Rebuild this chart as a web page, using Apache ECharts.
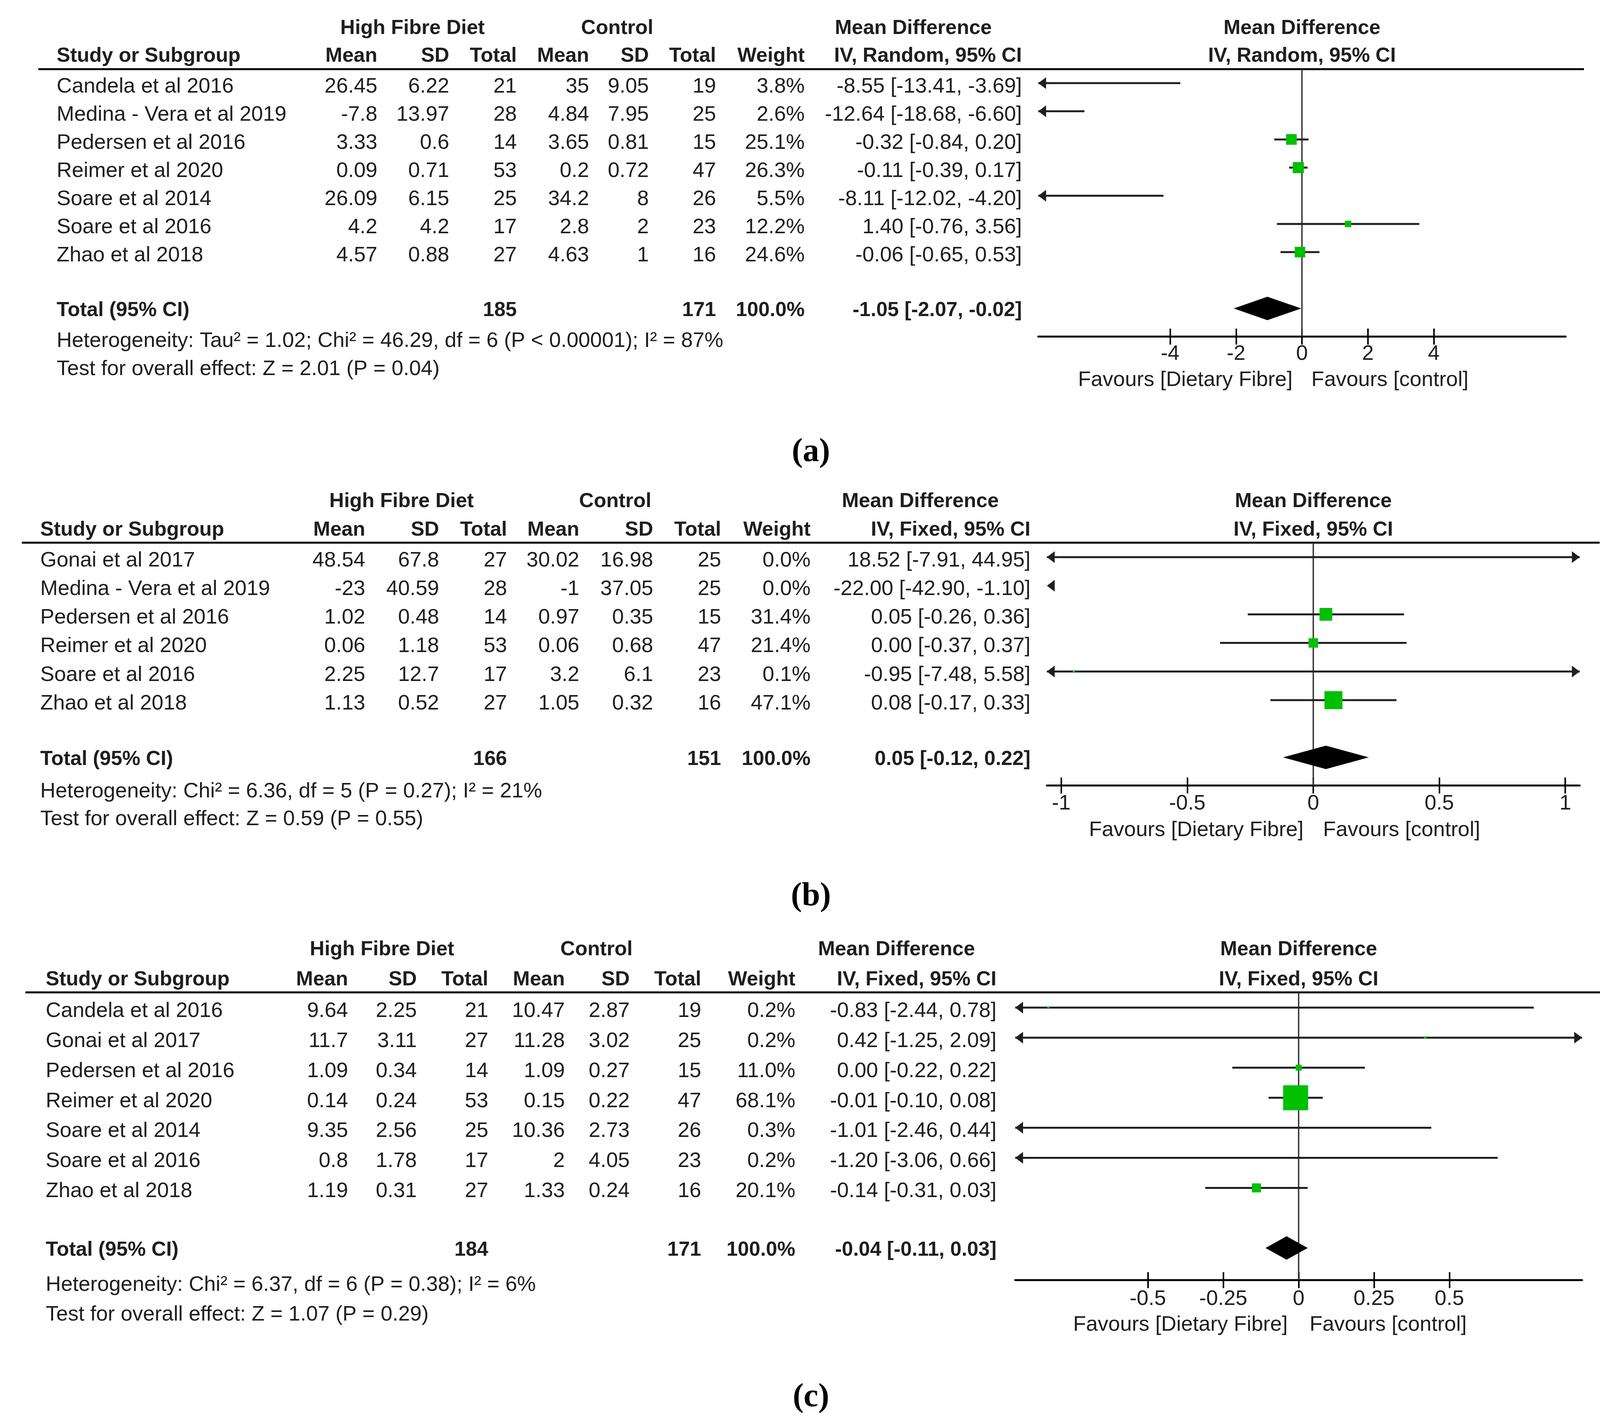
<!DOCTYPE html>
<html><head><meta charset="utf-8">
<script src="https://cdn.jsdelivr.net/npm/echarts@6/dist/echarts.min.js"></script>
<style>html,body{margin:0;padding:0;background:#fff}#c{width:4124px;height:3655px}</style>
</head><body><div id="c"></div>
<script>
// ---------------- DATA ----------------
// (a)
const studiesA = ['Candela et al 2016','Medina - Vera et al 2019','Pedersen et al 2016','Reimer et al 2020','Soare et al 2014','Soare et al 2016','Zhao et al 2018'];
const hfMeanA = [26.45,-7.8,3.33,0.09,26.09,4.2,4.57];
const hfSdA   = [6.22,13.97,0.6,0.71,6.15,4.2,0.88];
const hfNA    = [21,28,14,53,25,17,27];
const ctMeanA = [35,4.84,3.65,0.2,34.2,2.8,4.63];
const ctSdA   = [9.05,7.95,0.81,0.72,8,2,1];
const ctNA    = [19,25,15,47,26,23,16];
const weightA = [3.8,2.6,25.1,26.3,5.5,12.2,24.6];
const mdA     = [-8.55,-12.64,-0.32,-0.11,-8.11,1.40,-0.06];
const loA     = [-13.41,-18.68,-0.84,-0.39,-12.02,-0.76,-0.65];
const hiA     = [-3.69,-6.60,0.20,0.17,-4.20,3.56,0.53];
const totalA  = [-1.05,-2.07,-0.02];
const ticksA  = [-4,-2,0,2,4];
const hetA  = 'Heterogeneity: Tau\u00b2 = 1.02; Chi\u00b2 = 46.29, df = 6 (P < 0.00001); I\u00b2 = 87%';
const testA = 'Test for overall effect: Z = 2.01 (P = 0.04)';
// (b)
const studiesB = ['Gonai et al 2017','Medina - Vera et al 2019','Pedersen et al 2016','Reimer et al 2020','Soare et al 2016','Zhao et al 2018'];
const hfMeanB = [48.54,-23,1.02,0.06,2.25,1.13];
const hfSdB   = [67.8,40.59,0.48,1.18,12.7,0.52];
const hfNB    = [27,28,14,53,17,27];
const ctMeanB = [30.02,-1,0.97,0.06,3.2,1.05];
const ctSdB   = [16.98,37.05,0.35,0.68,6.1,0.32];
const ctNB    = [25,25,15,47,23,16];
const weightB = [0.0,0.0,31.4,21.4,0.1,47.1];
const mdB     = [18.52,-22.00,0.05,0.00,-0.95,0.08];
const loB     = [-7.91,-42.90,-0.26,-0.37,-7.48,-0.17];
const hiB     = [44.95,-1.10,0.36,0.37,5.58,0.33];
const totalB  = [0.05,-0.12,0.22];
const ticksB  = [-1,-0.5,0,0.5,1];
const hetB  = 'Heterogeneity: Chi\u00b2 = 6.36, df = 5 (P = 0.27); I\u00b2 = 21%';
const testB = 'Test for overall effect: Z = 0.59 (P = 0.55)';
// (c)
const studiesC = ['Candela et al 2016','Gonai et al 2017','Pedersen et al 2016','Reimer et al 2020','Soare et al 2014','Soare et al 2016','Zhao et al 2018'];
const hfMeanC = [9.64,11.7,1.09,0.14,9.35,0.8,1.19];
const hfSdC   = [2.25,3.11,0.34,0.24,2.56,1.78,0.31];
const hfNC    = [21,27,14,53,25,17,27];
const ctMeanC = [10.47,11.28,1.09,0.15,10.36,2,1.33];
const ctSdC   = [2.87,3.02,0.27,0.22,2.73,4.05,0.24];
const ctNC    = [19,25,15,47,26,23,16];
const weightC = [0.2,0.2,11.0,68.1,0.3,0.2,20.1];
const mdC     = [-0.83,0.42,0.00,-0.01,-1.01,-1.20,-0.14];
const loC     = [-2.44,-1.25,-0.22,-0.10,-2.46,-3.06,-0.31];
const hiC     = [0.78,2.09,0.22,0.08,0.44,0.66,0.03];
const totalC  = [-0.04,-0.11,0.03];
const ticksC  = [-0.5,-0.25,0,0.25,0.5];
const hetC  = 'Heterogeneity: Chi\u00b2 = 6.37, df = 6 (P = 0.38); I\u00b2 = 6%';
const testC = 'Test for overall effect: Z = 1.07 (P = 0.29)';

// ---------------- LAYOUT ----------------
const LA = {cols:[145,966,1150,1323,1508,1661,1833,2060,2616], grp:[1056,1580,2338], hdr:[73,144], line:[98,4055,177],
  grid:[2658,4008], xr:[-8,8], row0:212.7, rowH:72.1, axisY:861, totalRow:8, het:873, test:945, tickGap:18, fav:973, favGap:24, cap:1158};
const LB = {cols:[103,935,1124,1298,1483,1672,1846,2075,2638], grp:[1028,1575,2356], hdr:[1284,1357], line:[56,4095,1389],
  grid:[2680,4044], xr:[-1.057,1.057], row0:1426, rowH:73.2, axisY:2010, totalRow:7, het:2026, test:2097, tickGap:20, fav:2125, favGap:25, cap:2295};
const LC = {cols:[117,891,1067,1250,1446,1612,1795,2036,2551], grp:[978,1527,2295], hdr:[2431,2508], line:[65,4098,2540],
  grid:[2599,4050], xr:[-0.94,0.94], row0:2579, rowH:76.9, axisY:3276, totalRow:8, het:3289, test:3365, tickGap:22, fav:3391, favGap:28, cap:3577};

const panels = [
  {cap:'(a)', method:'IV, Random, 95% CI', studies:studiesA, hfMean:hfMeanA, hfSd:hfSdA, hfN:hfNA, ctMean:ctMeanA, ctSd:ctSdA, ctN:ctNA, w:weightA, md:mdA, lo:loA, hi:hiA, total:totalA, ticks:ticksA, het:hetA, test:testA, L:LA},
  {cap:'(b)', method:'IV, Fixed, 95% CI', studies:studiesB, hfMean:hfMeanB, hfSd:hfSdB, hfN:hfNB, ctMean:ctMeanB, ctSd:ctSdB, ctN:ctNB, w:weightB, md:mdB, lo:loB, hi:hiB, total:totalB, ticks:ticksB, het:hetB, test:testB, L:LB},
  {cap:'(c)', method:'IV, Fixed, 95% CI', studies:studiesC, hfMean:hfMeanC, hfSd:hfSdC, hfN:hfNC, ctMean:ctMeanC, ctSd:ctSdC, ctN:ctNC, w:weightC, md:mdC, lo:loC, hi:hiC, total:totalC, ticks:ticksC, het:hetC, test:testC, L:LC}
];

// ---------------- HELPERS ----------------
const FONT = '"Liberation Sans", Arial, Helvetica, sans-serif';
const TXT = '#1e1e1e';
const LINE = '#1f1f1f';
const GREEN = '#00c000';
function fnt(size, bold){ return (bold ? 'bold ' : '') + size + 'px ' + FONT; }
function txt(x, y, s, align, bold, size){
  return {type:'text', x:x, y:y, style:{text:String(s), font:fnt(size || 54, bold), fill:TXT,
    align:align || 'left', verticalAlign:'middle', textAlign:align || 'left', textVerticalAlign:'middle'}};
}
const f2 = v => v.toFixed(2);
const ciStr = (m, l, h) => f2(m) + ' [' + f2(l) + ', ' + f2(h) + ']';
const sum = a => a.reduce((s, v) => s + v, 0);

// ---------------- OPTION ----------------
const grids = [], xAxes = [], yAxes = [], series = [], graphics = [];

panels.forEach((P, k) => {
  const L = P.L;
  const top = L.row0 - L.rowH / 2;
  const ymax = (L.axisY - L.row0) / L.rowH;
  grids.push({left:L.grid[0], top:top, width:L.grid[1] - L.grid[0], height:L.axisY - top, containLabel:false});
  xAxes.push({type:'value', gridIndex:k, min:L.xr[0], max:L.xr[1], position:'bottom',
    axisLine:{show:true, onZero:false, lineStyle:{color:'#000', width:5}},
    axisTick:{show:true, inside:true, length:20, customValues:P.ticks, lineStyle:{color:'#000', width:4}},
    axisLabel:{show:true, customValues:P.ticks, margin:L.tickGap, fontSize:54, fontFamily:FONT, color:TXT, formatter:v => String(v)},
    splitLine:{show:false}});
  xAxes.push({type:'value', gridIndex:k, min:L.xr[0], max:L.xr[1], position:'bottom',
    axisLine:{show:false, onZero:false},
    axisTick:{show:true, inside:false, length:21, customValues:P.ticks, lineStyle:{color:'#000', width:4}},
    axisLabel:{show:false}, splitLine:{show:false}});
  yAxes.push({type:'value', gridIndex:k, inverse:true, min:-0.5, max:ymax, show:false});

  const xi = 2 * k;
  const [xmin, xmax] = L.xr;

  // zero line + favours labels
  series.push({type:'custom', xAxisIndex:xi, yAxisIndex:k, z:1, clip:false, silent:true, data:[[0]],
    renderItem:(params, api) => {
      const a = api.coord([0, -0.5]), b = api.coord([0, ymax]);
      return {type:'group', children:[
        {type:'line', shape:{x1:a[0], y1:a[1], x2:b[0], y2:b[1]}, style:{stroke:'#333', lineWidth:3.5}},
        txt(a[0] - L.favGap, L.fav, 'Favours [Dietary Fibre]', 'right', false, 54),
        txt(a[0] + L.favGap, L.fav, 'Favours [control]', 'left', false, 54)
      ]};
    }});

  // forest rows
  series.push({type:'custom', xAxisIndex:xi, yAxisIndex:k, z:3, clip:false, silent:true,
    encode:{x:1, y:0},
    data:P.studies.map((s, i) => [i, P.md[i], P.lo[i], P.hi[i], P.w[i]]),
    renderItem:(params, api) => {
      const row = api.value(0), md = api.value(1), lo = api.value(2), hi = api.value(3), w = api.value(4);
      const y = api.coord([0, row])[1];
      const ch = [];
      if (hi > xmin && lo < xmax) {
        const x1 = api.coord([Math.max(lo, xmin), row])[0];
        const x2 = api.coord([Math.min(hi, xmax), row])[0];
        ch.push({type:'line', shape:{x1:x1, y1:y, x2:x2, y2:y}, style:{stroke:LINE, lineWidth:5}});
      }
      if (lo < xmin) {
        const x0 = api.coord([xmin, row])[0];
        ch.push({type:'polygon', shape:{points:[[x0, y], [x0 + 20, y - 15], [x0 + 20, y + 15]]}, style:{fill:LINE}});
      }
      if (hi > xmax) {
        const x0 = api.coord([xmax, row])[0];
        ch.push({type:'polygon', shape:{points:[[x0, y], [x0 - 20, y - 15], [x0 - 20, y + 15]]}, style:{fill:LINE}});
      }
      if (md >= xmin && md <= xmax) {
        const c = api.coord([md, row]);
        const s = 6 + 0.85 * w;
        ch.push({type:'rect', shape:{x:c[0] - s / 2, y:c[1] - s / 2, width:s, height:s}, style:{fill:GREEN}});
      }
      return {type:'group', children:ch};
    }});

  // table rows
  series.push({type:'custom', xAxisIndex:xi, yAxisIndex:k, z:2, clip:false, silent:true,
    encode:{x:1, y:0},
    data:P.studies.map((s, i) => [i, 0]),
    renderItem:(params, api) => {
      const i = params.dataIndex;
      const y = api.coord([0, api.value(0)])[1] + 9;
      const C = L.cols;
      return {type:'group', children:[
        txt(C[0], y, P.studies[i], 'left'),
        txt(C[1], y, P.hfMean[i], 'right'),
        txt(C[2], y, P.hfSd[i], 'right'),
        txt(C[3], y, P.hfN[i], 'right'),
        txt(C[4], y, P.ctMean[i], 'right'),
        txt(C[5], y, P.ctSd[i], 'right'),
        txt(C[6], y, P.ctN[i], 'right'),
        txt(C[7], y, P.w[i].toFixed(1) + '%', 'right'),
        txt(C[8], y, ciStr(P.md[i], P.lo[i], P.hi[i]), 'right')
      ]};
    }});

  // total row: diamond + text
  series.push({type:'custom', xAxisIndex:xi, yAxisIndex:k, z:3, clip:false, silent:true,
    encode:{x:1, y:0},
    data:[[L.totalRow, P.total[0], P.total[1], P.total[2]]],
    renderItem:(params, api) => {
      const row = api.value(0);
      const m = api.coord([api.value(1), row]), l = api.coord([api.value(2), row]), h = api.coord([api.value(3), row]);
      const y = m[1], C = L.cols, ty = y + 5;
      return {type:'group', children:[
        {type:'polygon', shape:{points:[[l[0], y], [m[0], y - 30], [h[0], y], [m[0], y + 30]]}, style:{fill:'#000'}},
        txt(C[0], ty, 'Total (95% CI)', 'left', true, 52),
        txt(C[3], ty, sum(P.hfN), 'right', true, 52),
        txt(C[6], ty, sum(P.ctN), 'right', true, 52),
        txt(C[7], ty, '100.0%', 'right', true, 52),
        txt(C[8], ty, ciStr(P.total[0], P.total[1], P.total[2]), 'right', true, 52)
      ]};
    }});

  // headers and static text
  const C = L.cols, zeroX = L.grid[0] + (0 - xmin) / (xmax - xmin) * (L.grid[1] - L.grid[0]);
  graphics.push(
    txt(L.grp[0], L.hdr[0], 'High Fibre Diet', 'center', true, 52),
    txt(L.grp[1], L.hdr[0], 'Control', 'center', true, 52),
    txt(L.grp[2], L.hdr[0], 'Mean Difference', 'center', true, 52),
    txt(zeroX, L.hdr[0], 'Mean Difference', 'center', true, 52),
    txt(C[0], L.hdr[1], 'Study or Subgroup', 'left', true, 52),
    txt(C[1], L.hdr[1], 'Mean', 'right', true, 52),
    txt(C[2], L.hdr[1], 'SD', 'right', true, 52),
    txt(C[3], L.hdr[1], 'Total', 'right', true, 52),
    txt(C[4], L.hdr[1], 'Mean', 'right', true, 52),
    txt(C[5], L.hdr[1], 'SD', 'right', true, 52),
    txt(C[6], L.hdr[1], 'Total', 'right', true, 52),
    txt(C[7], L.hdr[1], 'Weight', 'right', true, 52),
    txt(C[8], L.hdr[1], P.method, 'right', true, 52),
    txt(zeroX, L.hdr[1], P.method, 'center', true, 52),
    {type:'line', shape:{x1:L.line[0], y1:L.line[2], x2:L.line[1], y2:L.line[2]}, style:{stroke:'#000', lineWidth:5}},
    txt(C[0], L.het, P.het, 'left'),
    txt(C[0], L.test, P.test, 'left'),
    {type:'text', x:2076, y:L.cap, style:{text:P.cap, font:'bold 84px "Liberation Serif", "Times New Roman", serif', fill:'#000',
      align:'center', verticalAlign:'middle', textAlign:'center', textVerticalAlign:'middle'}}
  );
});

const chart = echarts.init(document.getElementById('c'), null, {renderer:'canvas'});
chart.setOption({
  animation:false,
  backgroundColor:'#fff',
  grid:grids, xAxis:xAxes, yAxis:yAxes, series:series,
  graphic:{elements:graphics}
});
</script>
</body></html>
